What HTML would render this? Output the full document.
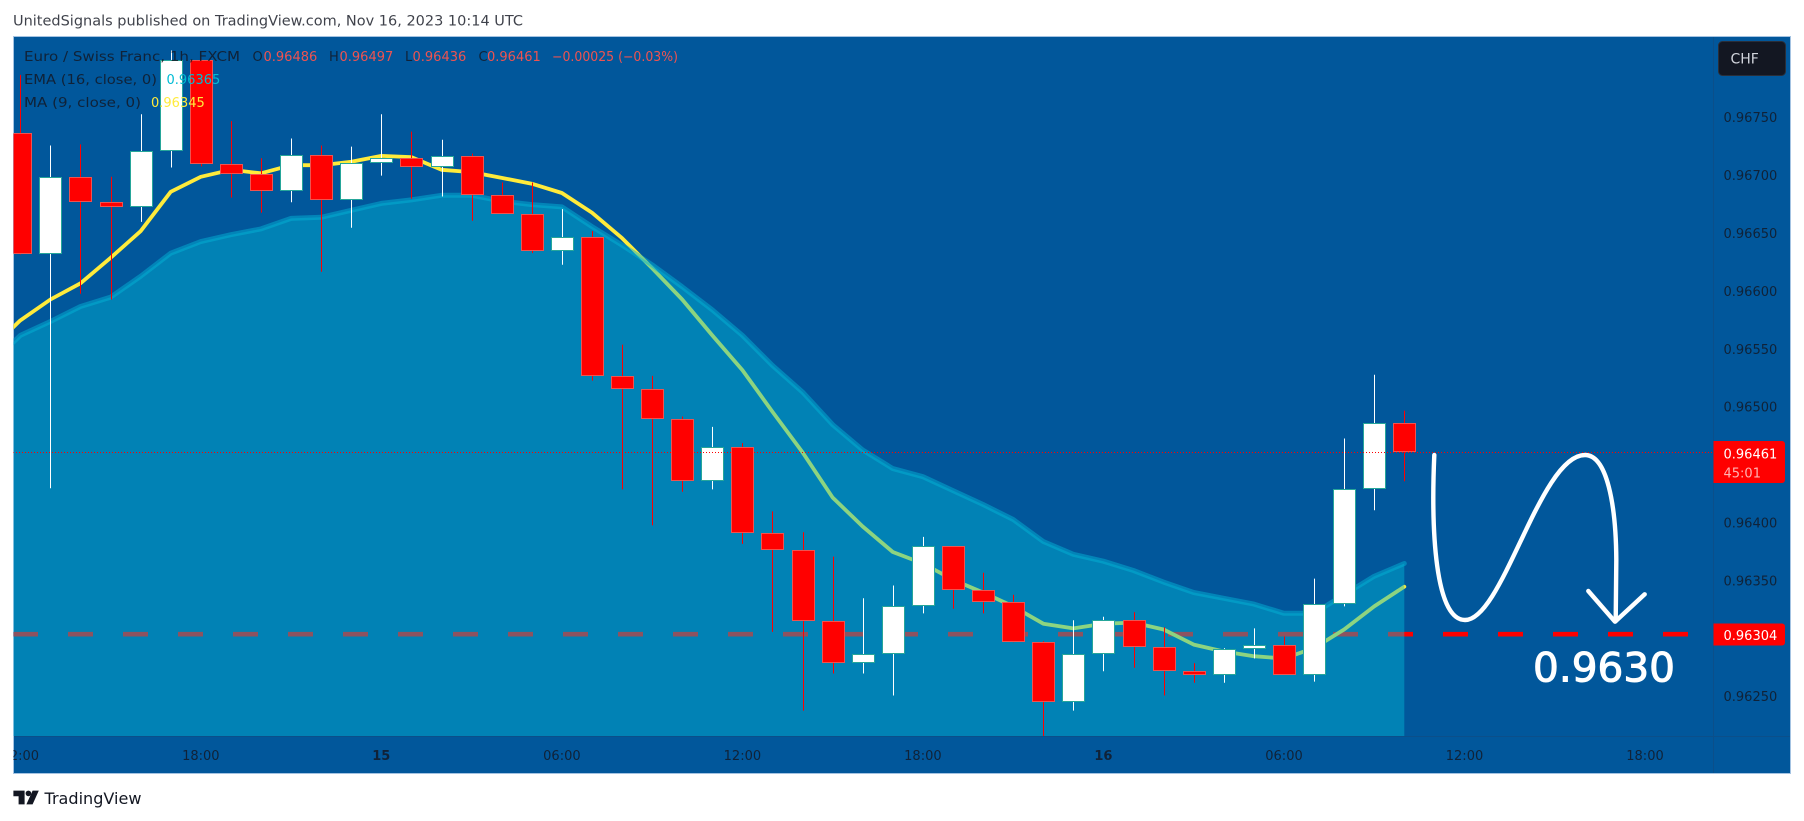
<!DOCTYPE html>
<html lang="en">
<head>
<meta charset="utf-8">
<title>EUR/CHF chart</title>
<style>
html,body{margin:0;padding:0;background:#fff;width:1804px;height:821px;overflow:hidden}
svg{display:block}
text{font-family:"DejaVu Sans","Liberation Sans",sans-serif;font-size:13px;fill:#131722}
.dim{fill-opacity:.82}
</style>
</head>
<body>
<svg id="chart" xmlns="http://www.w3.org/2000/svg" width="1804" height="821" viewBox="0 0 1804 821">
  <defs>
    <clipPath id="pane-clip"><rect x="13.5" y="37" width="1699.5" height="699"/></clipPath>
    <clipPath id="time-clip"><rect x="13.5" y="737" width="1699.5" height="36"/></clipPath>
  </defs>
  <text class="dim" x="13" y="25.5" style="font-size:14px" textLength="510" lengthAdjust="spacingAndGlyphs">UnitedSignals published on TradingView.com, Nov 16, 2023 10:14 UTC</text>
  <rect x="13.5" y="36.5" width="1777" height="737" fill="#01579b" stroke="#a4c3e2" stroke-width="1"/>
  <g id="plot" clip-path="url(#pane-clip)"></g>
  <line x1="1713.5" y1="37" x2="1713.5" y2="773" stroke="#0b4f8a" stroke-width="1"/>
  <line x1="14" y1="736.5" x2="1790" y2="736.5" stroke="#0b4f8a" stroke-width="1"/>
  <g id="price-axis"></g>
  <g id="time-axis" clip-path="url(#time-clip)"></g>

  <g fill="none" stroke="#ffffff" stroke-width="4.4" stroke-linecap="round" stroke-linejoin="round">
    <path d="M1434.3 455 C1431 530 1435 620 1465 620 C1503 620 1540 455 1585 455 C1607 455 1616 505 1616.3 560 L1615.7 621"/>
    <path d="M1588.3 591 L1615 621.7 L1644.7 594.3"/>
  </g>
  <text x="1533" y="681.5" style="font-family:'DejaVu Sans',sans-serif;font-size:40px;fill:#ffffff;stroke:#ffffff;stroke-width:1" textLength="142" lengthAdjust="spacingAndGlyphs">0.9630</text>

  <g>
    <text class="dim" x="24" y="61" textLength="216" lengthAdjust="spacingAndGlyphs">Euro / Swiss Franc, 1h, FXCM</text>
    <text class="dim" x="252.5" y="61">O</text>
    <text x="263.5" y="61" style="fill:#ef5350">0.96486</text>
    <text class="dim" x="329" y="61">H</text>
    <text x="339.5" y="61" style="fill:#ef5350">0.96497</text>
    <text class="dim" x="405" y="61">L</text>
    <text x="412.5" y="61" style="fill:#ef5350">0.96436</text>
    <text class="dim" x="478.5" y="61">C</text>
    <text x="487" y="61" style="fill:#ef5350">0.96461</text>
    <text x="552" y="61" style="fill:#ef5350" textLength="126" lengthAdjust="spacingAndGlyphs">−0.00025 (−0.03%)</text>
    <text class="dim" x="24" y="84" textLength="133" lengthAdjust="spacingAndGlyphs">EMA (16, close, 0)</text>
    <text x="166.5" y="84" style="fill:#00bcd4">0.96365</text>
    <text class="dim" x="24" y="107" textLength="117" lengthAdjust="spacingAndGlyphs">MA (9, close, 0)</text>
    <text x="151" y="107" style="fill:#ffeb3b">0.96345</text>
  </g>

  <g>
    <rect x="1718.5" y="41.5" width="67" height="34" rx="4" fill="#131722" stroke="#2a2e39"/>
    <text x="1730.5" y="63.5" style="fill:#d1d4dc;font-size:14px">CHF</text>
  </g>

  <path d="M1713.5 441H1782a3 3 0 0 1 3 3V480a3 3 0 0 1-3 3H1713.5Z" fill="#ff0000"/>
  <text x="1723.5" y="458.5" style="fill:#ffffff">0.96461</text>
  <text x="1723.5" y="477.5" style="fill:#ffb3b3">45:01</text>
  <path d="M1713.5 623.5H1782a3 3 0 0 1 3 3V642.5a3 3 0 0 1-3 3H1713.5Z" fill="#ff0000"/>
  <text x="1723.5" y="640" style="fill:#ffffff">0.96304</text>

  <g>
    <path d="M13.4 790.6H24.6V804.4H18.6V796.2H13.4ZM38.8 790.6L32.6 804.4H26.4L32.6 790.6Z" fill="#131722"/>
    <circle cx="28.4" cy="793.4" r="2.8" fill="#131722"/>
    <text x="44.5" y="804" style="font-size:16px;font-family:'DejaVu Sans',sans-serif" textLength="97" lengthAdjust="spacingAndGlyphs">TradingView</text>
  </g>
</svg>
<script>
// ---- chart data (prices, hourly bars) ----
const opens  = [0.96737,0.96632,0.96699,0.96677,0.96673,0.96721,0.96800,0.96710,0.96701,0.96687,0.96718,0.96679,0.96711,0.96715,0.96707,0.96717,0.96683,0.96667,0.96635,0.96647,0.96527,0.96516,0.96490,0.96436,0.96466,0.96391,0.96377,0.96315,0.96279,0.96287,0.96328,0.96380,0.96342,0.96332,0.96297,0.96245,0.96287,0.96316,0.96293,0.96272,0.96269,0.96291,0.96295,0.96269,0.96330,0.96429,0.96486];
const highs  = [0.96787,0.96726,0.96727,0.96699,0.96753,0.96808,0.96800,0.96747,0.96715,0.96732,0.96726,0.96725,0.96753,0.96738,0.96731,0.96719,0.96694,0.96694,0.96671,0.96652,0.96554,0.96527,0.96492,0.96483,0.96469,0.96410,0.96392,0.96371,0.96335,0.96346,0.96388,0.96380,0.96357,0.96338,0.96298,0.96316,0.96319,0.96323,0.96310,0.96279,0.96292,0.96309,0.96302,0.96352,0.96473,0.96528,0.96497];
const lows   = [0.96632,0.96430,0.96598,0.96593,0.96660,0.96707,0.96708,0.96681,0.96668,0.96677,0.96617,0.96655,0.96700,0.96680,0.96682,0.96661,0.96667,0.96633,0.96623,0.96523,0.96429,0.96398,0.96427,0.96429,0.96382,0.96306,0.96238,0.96270,0.96270,0.96251,0.96322,0.96326,0.96322,0.96297,0.96216,0.96238,0.96272,0.96275,0.96251,0.96262,0.96262,0.96283,0.96269,0.96263,0.96328,0.96411,0.96436];
const closes = [0.96632,0.96699,0.96677,0.96673,0.96721,0.96800,0.96710,0.96701,0.96687,0.96718,0.96679,0.96711,0.96715,0.96707,0.96717,0.96683,0.96667,0.96635,0.96647,0.96527,0.96516,0.96490,0.96436,0.96466,0.96391,0.96377,0.96315,0.96279,0.96287,0.96328,0.96380,0.96342,0.96332,0.96297,0.96245,0.96287,0.96316,0.96293,0.96272,0.96269,0.96291,0.96295,0.96269,0.96330,0.96429,0.96486,0.96461];
// moving averages: the first value belongs to the bar just left of the visible range
const maValues  = [0.96550,0.96575,0.96593,0.96607,0.96629,0.96652,0.96686,0.96699,0.96705,0.96702,0.96709,0.96709,0.96712,0.96717,0.96716,0.96705,0.96703,0.96698,0.96693,0.96685,0.96668,0.96646,0.96620,0.96593,0.96562,0.96532,0.96496,0.96461,0.96422,0.96397,0.96375,0.96365,0.96351,0.96340,0.96328,0.96313,0.96309,0.96313,0.96314,0.96308,0.96295,0.96289,0.96285,0.96283,0.96292,0.96308,0.96328,0.96345];
const emaValues = [0.96537,0.96562,0.96574,0.96587,0.96595,0.96613,0.96633,0.96643,0.96649,0.96654,0.96663,0.96664,0.96670,0.96676,0.96679,0.96683,0.96683,0.96678,0.96675,0.96673,0.96656,0.96640,0.96623,0.96604,0.96584,0.96562,0.96536,0.96513,0.96485,0.96463,0.96447,0.96440,0.96428,0.96416,0.96403,0.96384,0.96373,0.96367,0.96359,0.96349,0.96340,0.96335,0.96330,0.96322,0.96322,0.96338,0.96354,0.96365];
const priceTicks = [0.96750,0.96700,0.96650,0.96600,0.96550,0.96500,0.96400,0.96350,0.96250];
const priceTickLabels = ["0.96750","0.96700","0.96650","0.96600","0.96550","0.96500","0.96400","0.96350","0.96250"];
const timeTickBars = [0,6,12,18,24,30,36,42,48,54];
const timeTickLabels = ["12:00","18:00","15","06:00","12:00","18:00","16","06:00","12:00","18:00"];
const timeTickBold = ["15","16"];
const supportPrice = 0.96304;
const lastPrice = 0.96461;

// ---- axis functions ----
function xScale(bar){ return 20.3 + 30.087 * bar; }
function yScale(price){ return 117.7 + (0.9675 - price) * 115800; }

const NS = 'http://www.w3.org/2000/svg';
function make(parent, tag, attrs){
  const el = document.createElementNS(NS, tag);
  for (const k in attrs) el.setAttribute(k, attrs[k]);
  parent.appendChild(el);
  return el;
}
const plot = document.getElementById('plot');

// support dashed line (sits below the translucent area)
const dash = make(plot, 'line', {x1:13, x2:1688, y1:yScale(supportPrice), y2:yScale(supportPrice), stroke:'#ff0000', 'stroke-width':4.6, 'stroke-dasharray':'25 30'});



// MA line
const maPts = maValues.map(function(v,i){ return xScale(i-1).toFixed(1)+','+yScale(v).toFixed(1); });
const maLine = make(plot, 'polyline', {points:maPts.join(' '), fill:'none', stroke:'#ffeb3b', 'stroke-width':3.8, 'stroke-linejoin':'round', 'stroke-linecap':'round'});



// EMA area + line
const emaPts = emaValues.map(function(v,i){ return xScale(i-1).toFixed(1)+','+yScale(v).toFixed(1); });
const lastX = xScale(emaValues.length-2).toFixed(1);
const area = make(plot, 'polygon', {points:emaPts.join(' ')+' '+lastX+',736 '+xScale(-1).toFixed(1)+',736', fill:'rgba(3,185,213,0.45)'});


const emaLine = make(plot, 'polyline', {points:emaPts.join(' '), fill:'none', stroke:'rgba(3,178,214,0.5)', 'stroke-width':5, 'stroke-linejoin':'round', 'stroke-linecap':'round'});



// candles
closes.forEach(function(close,i){
  const open = opens[i];
  const up = close >= open;
  const cx = Math.round(xScale(i)) + 0.5;
  const g = make(plot, 'g', {});
  
  
  const wick = make(g, 'line', {x1:cx, x2:cx, y1:yScale(highs[i]), y2:yScale(lows[i]), stroke: up ? '#ffffff' : '#ff0000', 'stroke-width':1});
  
  
  const top = Math.round(yScale(Math.max(open,close))) + 0.5;
  const bot = Math.max(top + 1, Math.round(yScale(Math.min(open,close))) - 0.5);
  const body = make(g, 'rect', {x:cx-11, y:top, width:22, height:bot-top, fill: up ? '#ffffff' : '#ff0000', stroke: up ? '#26a69a' : '#ef5350', 'stroke-width':1});
  
  
});

// last-price dotted line
const lastLine = make(plot, 'line', {x1:13, x2:1713, y1:Math.floor(yScale(lastPrice))+0.5, y2:Math.floor(yScale(lastPrice))+0.5, stroke:'#ff0000', 'stroke-width':1, 'stroke-dasharray':'1 2'});



// price axis
const priceAxis = document.getElementById('price-axis');
priceTicks.forEach(function(p,i){
  const t = make(priceAxis, 'text', {x:1723.5, y:(yScale(p)+4.5).toFixed(1), 'fill-opacity':0.82});
  t.textContent = priceTickLabels[i];
  
  
});

// time axis
const timeAxis = document.getElementById('time-axis');
timeTickBars.forEach(function(b,i){
  const t = make(timeAxis, 'text', {x:xScale(b).toFixed(1), y:760, 'text-anchor':'middle', 'fill-opacity':0.82});
  if (timeTickBold.indexOf(timeTickLabels[i]) >= 0) t.setAttribute('font-weight', 'bold');
  t.textContent = timeTickLabels[i];
  
  
});
</script>
</body>
</html>
